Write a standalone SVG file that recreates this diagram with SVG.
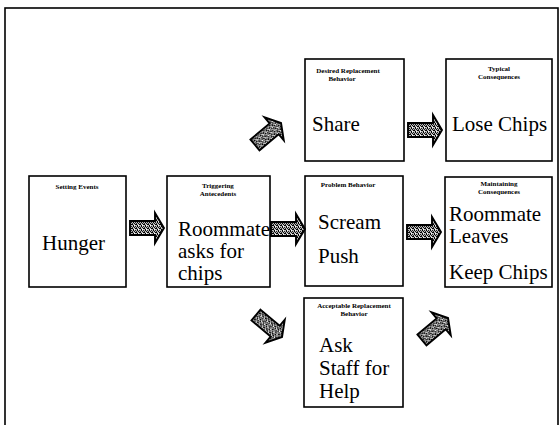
<svg xmlns="http://www.w3.org/2000/svg" width="560" height="425" viewBox="0 0 560 425">
  <defs>
    <style>
      .box { fill: #fff; stroke: #000; stroke-width: 1.6; }
      .frame { fill: none; stroke: #000; stroke-width: 1.6; }
      text { font-family: "Liberation Serif", "DejaVu Serif", "Times New Roman", serif; fill: #000; }
      .title { font-size: 7px; font-weight: bold; text-anchor: middle; }
      .body { font-size: 21px; }
      .arrow { fill: url(#dither); stroke: #000; stroke-width: 1.9; stroke-linejoin: miter; }
    </style>
    <!-- speckled halftone fill used by the block arrows -->
    <pattern id="dither" width="4" height="4" patternUnits="userSpaceOnUse">
      <rect width="4" height="4" fill="#bbb"/>
      <rect x="0" y="0" width="2" height="1" fill="#000"/>
      <rect x="2" y="1" width="1" height="2" fill="#000"/>
      <rect x="3" y="3" width="1" height="1" fill="#111"/>
      <rect x="0" y="2" width="1" height="1" fill="#222"/>
      <rect x="1" y="3" width="1" height="1" fill="#333"/>
      <rect x="3" y="1" width="1" height="1" fill="#fff"/>
    </pattern>
    <!-- block arrow pointing right, centred on the origin -->
    <path id="blockArrow" d="M-17,-7 H8 V-15 L17,0 L8,15 V7 H-17 Z"/>
  </defs>

  <rect width="560" height="425" fill="#fff"/>
  <rect class="frame" x="5" y="8" width="553" height="430"/>

  <g id="setting-events">
    <rect class="box" x="29" y="176" width="97" height="111"/>
    <text class="title" x="77" y="189">Setting Events</text>
    <text class="body" x="42" y="250">Hunger</text>
  </g>

  <g id="triggering-antecedents">
    <rect class="box" x="167" y="176" width="103" height="111"/>
    <text class="title" x="218" y="188">Triggering</text>
    <text class="title" x="218" y="196">Antecedents</text>
    <text class="body" x="178" y="236">Roommate</text>
    <text class="body" x="178" y="258">asks for</text>
    <text class="body" x="178" y="280">chips</text>
  </g>

  <g id="desired-replacement">
    <rect class="box" x="305" y="59" width="99" height="102"/>
    <text class="title" x="348" y="73">Desired Replacement</text>
    <text class="title" x="342" y="81">Behavior</text>
    <text class="body" x="312" y="131">Share</text>
  </g>

  <g id="problem-behavior">
    <rect class="box" x="305" y="176" width="98" height="110"/>
    <text class="title" x="348" y="187">Problem Behavior</text>
    <text class="body" x="318" y="229">Scream</text>
    <text class="body" x="318" y="263">Push</text>
  </g>

  <g id="acceptable-replacement">
    <rect class="box" x="304" y="298" width="99" height="109"/>
    <text class="title" x="354" y="308">Acceptable Replacement</text>
    <text class="title" x="354" y="316">Behavior</text>
    <text class="body" x="319" y="352">Ask</text>
    <text class="body" x="319" y="375">Staff for</text>
    <text class="body" x="319" y="398">Help</text>
  </g>

  <g id="typical-consequences">
    <rect class="box" x="446" y="59" width="106" height="102"/>
    <text class="title" x="499" y="71">Typical</text>
    <text class="title" x="499" y="79">Consequences</text>
    <text class="body" x="452" y="131">Lose Chips</text>
  </g>

  <g id="maintaining-consequences">
    <rect class="box" x="445" y="177" width="107" height="110"/>
    <text class="title" x="499" y="186">Maintaining</text>
    <text class="title" x="499" y="194">Consequences</text>
    <text class="body" x="449" y="221">Roommate</text>
    <text class="body" x="449" y="243">Leaves</text>
    <text class="body" x="449" y="279">Keep Chips</text>
  </g>

  <g id="connectors">
    <use href="#blockArrow" class="arrow" transform="translate(147,228)"/>
    <use href="#blockArrow" class="arrow" transform="translate(288,229)"/>
    <use href="#blockArrow" class="arrow" transform="translate(424,232)"/>
    <use href="#blockArrow" class="arrow" transform="translate(425,130)"/>
    <use href="#blockArrow" class="arrow" transform="translate(268,134) rotate(-40)"/>
    <use href="#blockArrow" class="arrow" transform="translate(269,326) rotate(40)"/>
    <use href="#blockArrow" class="arrow" transform="translate(435,329) rotate(-40)"/>
  </g>
</svg>
